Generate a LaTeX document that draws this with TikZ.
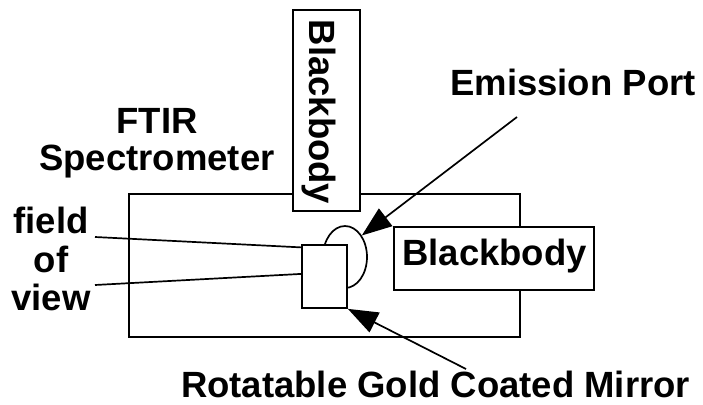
\documentclass[tikz,border=0pt]{standalone}
\usepackage{fontspec}
\setmainfont{Liberation Sans}
\usetikzlibrary{arrows.meta,shapes.geometric,calc}
\begin{document}
\begin{tikzpicture}[x=1pt,y=-1pt,
  lw/.style={line width=1.7pt},
  boxed/.style={lw,draw=black,fill=white},
  lbl/.style={inner sep=0pt,anchor=base,font=\fontsize{36.5}{38}\selectfont\bfseries},
  pointer/.style={lw,-{Triangle[length=30pt,width=22pt]}}
]
\useasboundingbox (0,0) rectangle (703,404);
% main spectrometer box
\draw[lw] (129,194) rectangle (520,337);
\node[coordinate] (mainbox) at (324,265) {};
% emission port ellipse
\node[lw,draw,ellipse,minimum width=44pt,minimum height=62pt,inner sep=0pt] (port) at (345,257) {};
% mirror box
\node[boxed,minimum width=45pt,minimum height=63pt,inner sep=0pt] (mirror) at (324.5,276.5) {};
% vertical blackbody
\node[boxed,minimum width=67pt,minimum height=201pt,inner sep=0pt] (bbv) at (326.5,110.5) {};
\node[lbl,rotate=-90,anchor=center] (bbvt) at (319,112) {Blackbody};
% right blackbody
\node[boxed,minimum width=200pt,minimum height=63pt,inner sep=0pt] (bbr) at (494,258.5) {};
\node[lbl] (bbrt) at (494.5,265) {Blackbody};
% labels
\node[lbl] (ftir) at (157,133) {FTIR};
\node[lbl] (spec) at (157,170) {Spectrometer};
\node[lbl] (fov1) at (51,233) {field};
\node[lbl] (fov2) at (51,272) {of};
\node[lbl] (fov3) at (51,310) {view};
\node[lbl] (emis) at (573,95) {Emission Port};
\node[lbl] (rot) at (435.5,397) {Rotatable Gold Coated Mirror};
% field of view lines
\coordinate (fa) at (95,237);
\coordinate (fb) at (95,285);
\draw[lw] (fa) -- ($(mirror.north west)!0.05!(mirror.south west)$);
\draw[lw] (fb) -- ($(mirror.north west)!0.46!(mirror.south west)$);
% arrows
\coordinate (et) at (517,117);
\coordinate (rt) at (466,369);
\draw[pointer] (et) -- (port.52);
\draw[pointer] (rt) -- (mirror.south east);
\end{tikzpicture}
\end{document}
